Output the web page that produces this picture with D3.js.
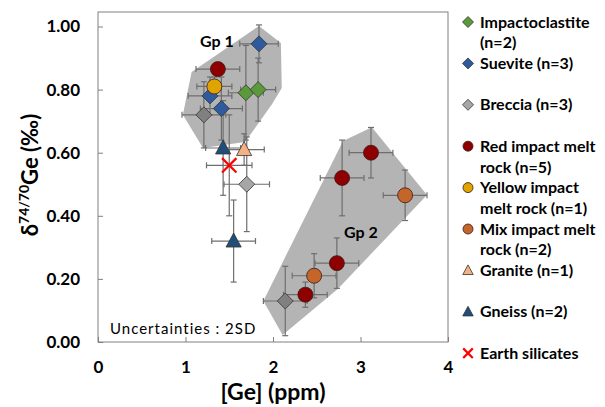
<!DOCTYPE html>
<html>
<head>
<meta charset="utf-8">
<script src="https://cdn.jsdelivr.net/npm/d3@7"></script>
<style>
  body { margin: 0; background: #fff; }
  text { font-family: Lato, "Open Sans", sans-serif; }
</style>
</head>
<body>
<div id="chart"></div>
<script>
var width = 605, height = 407

// data: x = [Ge] ppm, y = d74/70Ge, ex/ey = 2SD
var impactoclastite = [{x: 1.69, y: 0.79, ex: 0.2, ey: 0.15}, {x: 1.83, y: 0.80, ex: 0.2, ey: 0.10}]
var suevite = [{x: 1.84, y: 0.945, ex: 0.22, ey: 0.06}, {x: 1.28, y: 0.78, ex: 0.25, ey: 0.06}, {x: 1.41, y: 0.74, ex: 0.24, ey: 0.1}]
var breccia = [{x: 1.21, y: 0.72, ex: 0.25, ey: 0.105, dark: 1}, {x: 1.70, y: 0.50, ex: 0.26, ey: 0.15}, {x: 2.14, y: 0.13, ex: 0.25, ey: 0.11, dark: 1}]
var redMelt = [{x: 1.37, y: 0.865, ex: 0.25, ey: 0.02}, {x: 3.12, y: 0.60, ex: 0.25, ey: 0.08}, {x: 2.79, y: 0.52, ex: 0.25, ey: 0.12}, {x: 2.73, y: 0.25, ex: 0.25, ey: 0.08}, {x: 2.37, y: 0.15, ex: 0.25, ey: 0.04}]
var yellowMelt = [{x: 1.33, y: 0.81, ex: 0.2, ey: 0.03}]
var mixMelt = [{x: 3.51, y: 0.465, ex: 0.25, ey: 0.08}, {x: 2.47, y: 0.21, ex: 0.25, ey: 0.07}]
var granite = [{x: 1.67, y: 0.61, ex: 0.23, ey: 0.05}]
var gneiss = [{x: 1.43, y: 0.615, ex: 0.2, ey: 0.15}, {x: 1.55, y: 0.32, ex: 0.25, ey: 0.13}]
var earth = [{x: 1.50, y: 0.56, ex: 0.26, ey: 0.16}]

var gp1 = [[1.84, 1.002], [2.09, 0.948], [2.10, 0.805], [1.99, 0.754], [1.68, 0.634], [1.20, 0.615], [0.97, 0.72], [1.07, 0.856]]
var gp2 = [[3.13, 0.681], [2.80, 0.637], [1.89, 0.130], [2.11, 0.022], [2.74, 0.168], [3.76, 0.466]]

var xTicks = [0, 1, 2, 3, 4]
var yTicks = [0, 0.2, 0.4, 0.6, 0.8, 1.0]

var series = [
  {name: ["Impactoclastite", "(n=2)"], data: impactoclastite, shape: "diamond", fill: "#5b9a3c", row: 0},
  {name: ["Suevite (n=3)"], data: suevite, shape: "diamond", fill: "#2f5b9e", row: 2},
  {name: ["Breccia (n=3)"], data: breccia, shape: "diamond", fill: "#a6a6a6", row: 4},
  {name: ["Red impact melt", "rock (n=5)"], data: redMelt, shape: "circle", fill: "#8e0000", row: 6},
  {name: ["Yellow impact", "melt rock (n=1)"], data: yellowMelt, shape: "circle", fill: "#e0a400", row: 8},
  {name: ["Mix impact melt", "rock (n=2)"], data: mixMelt, shape: "circle", fill: "#c4652a", row: 10},
  {name: ["Granite (n=1)"], data: granite, shape: "triangle", fill: "#f4b183", row: 12},
  {name: ["Gneiss (n=2)"], data: gneiss, shape: "triangle", fill: "#1f4e79", row: 14},
  {name: ["Earth silicates"], data: earth, shape: "cross", fill: "#ff0000", row: 16}
]

var x = d3.scaleLinear().domain([0, 4]).range([98, 448])
var y = d3.scaleLinear().domain([0, 1.046]).range([342, 12])

var svg = d3.select("#chart").append("svg")
  .attr("width", width).attr("height", height)

// hulls
var line = d3.line().x(d => x(d[0])).y(d => y(d[1])).curve(d3.curveLinearClosed)
svg.selectAll(".hull").data([gp1, gp2]).enter().append("path")
  .attr("d", line).style("fill", "#b4b4b4")

svg.append("text").attr("x", 217).attr("y", 47).attr("text-anchor", "middle")
  .style("font-weight", "bold").style("font-size", "16px").text("Gp 1")
svg.append("text").attr("x", 361).attr("y", 238).attr("text-anchor", "middle")
  .style("font-weight", "bold").style("font-size", "16px").text("Gp 2")

// frame
svg.append("rect").attr("x", x(0)).attr("y", y(1.046))
  .attr("width", x(4) - x(0)).attr("height", y(0) - y(1.046))
  .style("fill", "none").style("stroke", "#808080").style("stroke-width", 1)

// axes
var xAxis = svg.append("g").attr("transform", "translate(0," + y(0) + ")")
  .call(d3.axisBottom(x).tickValues(xTicks).tickFormat(d3.format("d")).tickSize(-5).tickPadding(19))
var yAxis = svg.append("g").attr("transform", "translate(" + x(0) + ",0)")
  .call(d3.axisLeft(y).tickValues(yTicks).tickFormat(d3.format(".2f")).tickSize(-5).tickPadding(18))
;[xAxis, yAxis].forEach(a => {
  a.select(".domain").remove()
  a.selectAll(".tick line").style("stroke", "#808080")
  a.selectAll(".tick text").style("font-size", "17px").style("font-weight", "bold")
    .style("font-family", "Lato, 'Open Sans', sans-serif").style("fill", "#000")
})

svg.append("text").attr("x", 273).attr("y", 400).attr("text-anchor", "middle")
  .style("font-weight", "bold").style("font-size", "23px").text("[Ge] (ppm)")

var yl = svg.append("text").attr("transform", "translate(38,175) rotate(-90)")
  .attr("text-anchor", "middle").style("font-weight", "bold").style("font-size", "22px")
yl.append("tspan").text("δ")
yl.append("tspan").attr("dy", -9).style("font-size", "14px").text("74/70")
yl.append("tspan").attr("dy", 9).text("Ge (‰)")

svg.append("text").attr("x", 110).attr("y", 334).style("font-size", "15px")
  .style("letter-spacing", "1px").text("Uncertainties : 2SD")

// error bars
var eb = svg.append("g").style("stroke", "#6e6e6e").style("stroke-width", 1.2)
series.forEach(s => {
  s.data.forEach(d => {
    var cx = x(d.x), cy = y(d.y), x0 = x(d.x - d.ex), x1 = x(d.x + d.ex), y0 = y(d.y - d.ey), y1 = y(d.y + d.ey)
    eb.append("line").attr("x1", x0).attr("x2", x1).attr("y1", cy).attr("y2", cy)
    eb.append("line").attr("x1", cx).attr("x2", cx).attr("y1", y0).attr("y2", y1)
    eb.append("line").attr("x1", x0).attr("x2", x0).attr("y1", cy - 3).attr("y2", cy + 3)
    eb.append("line").attr("x1", x1).attr("x2", x1).attr("y1", cy - 3).attr("y2", cy + 3)
    eb.append("line").attr("x1", cx - 3).attr("x2", cx + 3).attr("y1", y0).attr("y2", y0)
    eb.append("line").attr("x1", cx - 3).attr("x2", cx + 3).attr("y1", y1).attr("y2", y1)
  })
})

function marker(g, shape, fill, r) {
  if (shape == "circle") {
    g.append("circle").attr("r", r).style("fill", fill).style("stroke", "#3a1a1a").style("stroke-width", 0.8)
  } else if (shape == "diamond") {
    g.append("path").attr("d", "M0," + (-r) + "L" + r + ",0L0," + r + "L" + (-r) + ",0Z")
      .style("fill", fill).style("stroke", "#333").style("stroke-width", 0.8)
  } else if (shape == "triangle") {
    g.append("path").attr("d", "M0," + (-r) + "L" + (r * 0.95) + "," + (r * 0.75) + "L" + (-r * 0.95) + "," + (r * 0.75) + "Z")
      .style("fill", fill).style("stroke", "#333").style("stroke-width", 0.8)
  } else {
    var k = r * 0.8
    g.append("path").attr("d", "M" + (-k) + "," + (-k) + "L" + k + "," + k + "M" + k + "," + (-k) + "L" + (-k) + "," + k)
      .style("stroke", fill).style("stroke-width", 2.2).style("fill", "none")
  }
}

// markers
series.forEach(s => {
  s.data.forEach(d => {
    var g = svg.append("g").attr("transform", "translate(" + x(d.x) + "," + y(d.y) + ")")
    var f = s.shape == "diamond" && d.dark ? "#808080" : s.fill
    marker(g, s.shape, f, s.shape == "circle" ? 7.5 : s.shape == "cross" ? 9 : 8)
  })
})

// legend
var leg = svg.append("g")
series.forEach(s => {
  var ly = 22 + s.row * 20.7
  var g = leg.append("g").attr("transform", "translate(468," + ly + ")")
  marker(g, s.shape, s.fill, s.shape == "circle" ? 5 : s.shape == "cross" ? 6 : 5.5)
  s.name.forEach((t, i) => {
    leg.append("text").attr("x", 480).attr("y", ly + i * 20.7).attr("dy", "0.35em")
      .style("font-size", "16px").style("font-weight", "bold").text(t)
  })
})
</script>
</body>
</html>
